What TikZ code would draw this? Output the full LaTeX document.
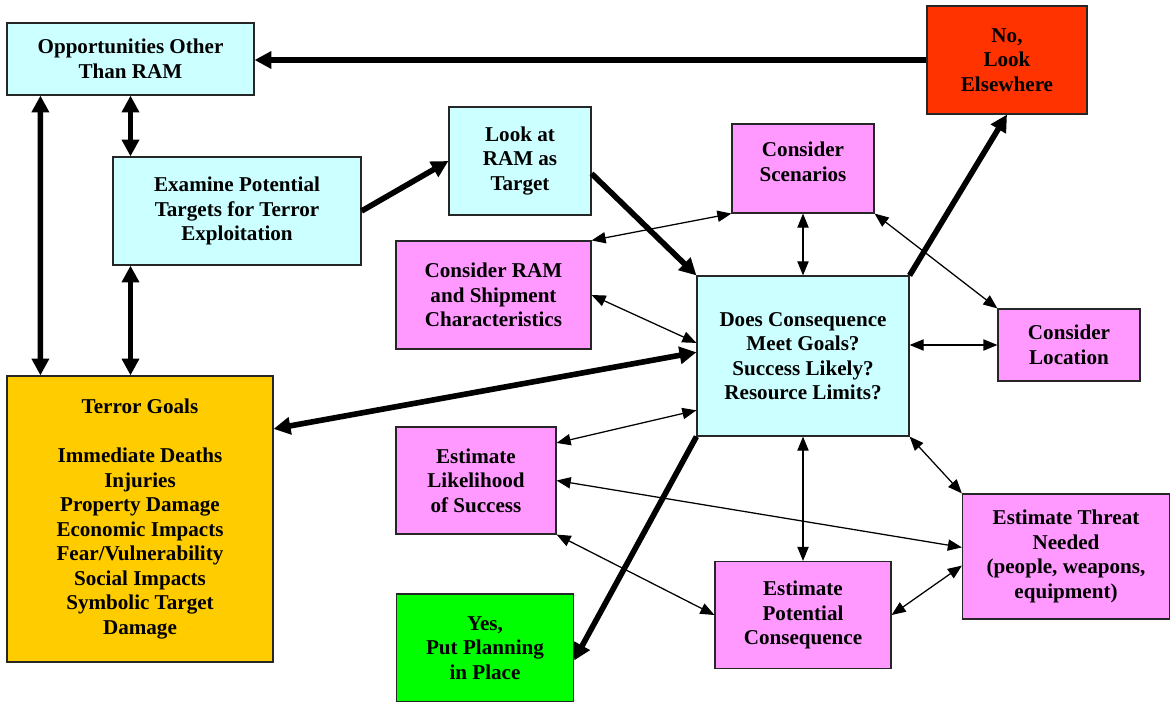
\documentclass[tikz,border=0pt]{standalone}
\usepackage{fontspec}
\setmainfont{Liberation Serif}
\usepackage{tikz}
\usetikzlibrary{arrows.meta}

\definecolor{lcyan}{HTML}{CCFFFF}
\definecolor{lpink}{HTML}{FF99FF}
\definecolor{lred}{HTML}{FF3300}
\definecolor{lgold}{HTML}{FFCC00}
\definecolor{lgreen}{HTML}{00FF00}

\begin{document}
\begin{tikzpicture}[x=0.025cm, y=-0.025cm,
    box/.style={draw=black!85, line width=0.8pt, align=center, inner sep=2pt,
        font=\fontsize{15}{17.4}\selectfont\bfseries},
    bigarrow/.style={line width=4pt, -{Triangle[length=12pt,width=12pt]}},
    bigboth/.style={line width=4pt, {Triangle[length=12pt,width=12pt]}-{Triangle[length=12pt,width=12pt]}},
    smallboth/.style={line width=0.9pt, {Triangle[length=10pt,width=8pt]}-{Triangle[length=10pt,width=8pt]}}]
    \useasboundingbox (0,0) rectangle (1170,702);
    % boxes
    \node[box, fill=lcyan, minimum width=6.175cm, minimum height=1.8cm] (opp) at (130.5,59)
        {Opportunities Other\\Than RAM};
    \node[box, fill=lcyan, minimum width=6.2cm, minimum height=2.7cm] (exam) at (237,211)
        {Examine Potential\\Targets for Terror\\Exploitation};
    \node[box, fill=lcyan, minimum width=3.55cm, minimum height=2.7cm] (look) at (520,161)
        {Look at\\RAM as\\Target};
    \node[box, fill=lred, minimum width=4cm, minimum height=2.7cm] (no) at (1007,60)
        {No,\\Look\\Elsewhere};
    \node[box, fill=lpink, minimum width=3.55cm, minimum height=2.225cm] (scen) at (803,168.5)
        {Consider\\Scenarios\\[-7.4pt]};
    \node[box, fill=lpink, minimum width=4.875cm, minimum height=2.7cm] (ship) at (493.5,295)
        {Consider RAM\\and Shipment\\Characteristics};
    \node[box, fill=lcyan, minimum width=5.3cm, minimum height=4cm] (doc) at (803,356)
        {Does Consequence\\Meet Goals?\\Success Likely?\\Resource Limits?};
    \node[box, fill=lpink, minimum width=3.55cm, minimum height=1.8cm] (loc) at (1069,345)
        {Consider\\Location};
    \node[box, fill=lgold, minimum width=6.65cm, minimum height=7.15cm] (goals) at (140,519)
        {Terror Goals\\[17.4pt]Immediate Deaths\\Injuries\\Property Damage\\Economic Impacts\\
         Fear/Vulnerability\\Social Impacts\\Symbolic Target\\Damage};
    \node[box, fill=lpink, minimum width=4cm, minimum height=2.675cm] (like) at (476,480.5)
        {Estimate\\Likelihood\\of Success};
    \node[box, fill=lgreen, minimum width=4.425cm, minimum height=2.7cm] (yes) at (485,648)
        {Yes,\\Put Planning\\in Place};
    \node[box, fill=lpink, minimum width=4.4cm, minimum height=2.675cm] (pot) at (803,615)
        {Estimate\\Potential\\Consequence};
    \node[box, fill=lpink, minimum width=5.175cm, minimum height=3.125cm] (thr) at (1066,556.5)
        {Estimate Threat\\Needed\\(people, weapons,\\equipment)};
    % heavy arrows
    \draw[bigarrow] (no.west) -- (no.west -| opp.east);
    \draw[bigboth] ([xshift=0.85cm]opp.south west) -- ([xshift=0.85cm]goals.north west);
    \draw[bigboth] (opp.south) -- (opp.south |- exam.north);
    \draw[bigboth] (opp.south |- exam.south) -- (opp.south |- goals.north);
    \draw[bigarrow] (exam.east) -- (look.west);
    \draw[bigarrow] (look.-10) -- (doc.north west);
    \draw[bigarrow] (doc.north east) -- (no.south);
    \draw[bigboth] (doc.178) -- (goals.34);
    \draw[bigarrow] (doc.south west) -- (yes.-8);
    % thin arrows
    \draw[smallboth] (ship.north east) -- (scen.south west);
    \draw[smallboth] (ship.east) -- (doc.173);
    \draw[smallboth] (scen.south) -- (doc.north);
    \draw[smallboth] (scen.south east) -- (loc.north west);
    \draw[smallboth] (doc.east |- loc.west) -- (loc.west);
    \draw[smallboth] (like.25) -- (doc.207);
    \draw[smallboth] (like.east) -- (thr.175);
    \draw[smallboth] (like.south east) -- (pot.west);
    \draw[smallboth] (doc.south) -- (pot.north);
    \draw[smallboth] (doc.south east) -- (thr.north west);
    \draw[smallboth] (pot.east) -- (thr.185);
\end{tikzpicture}
\end{document}
